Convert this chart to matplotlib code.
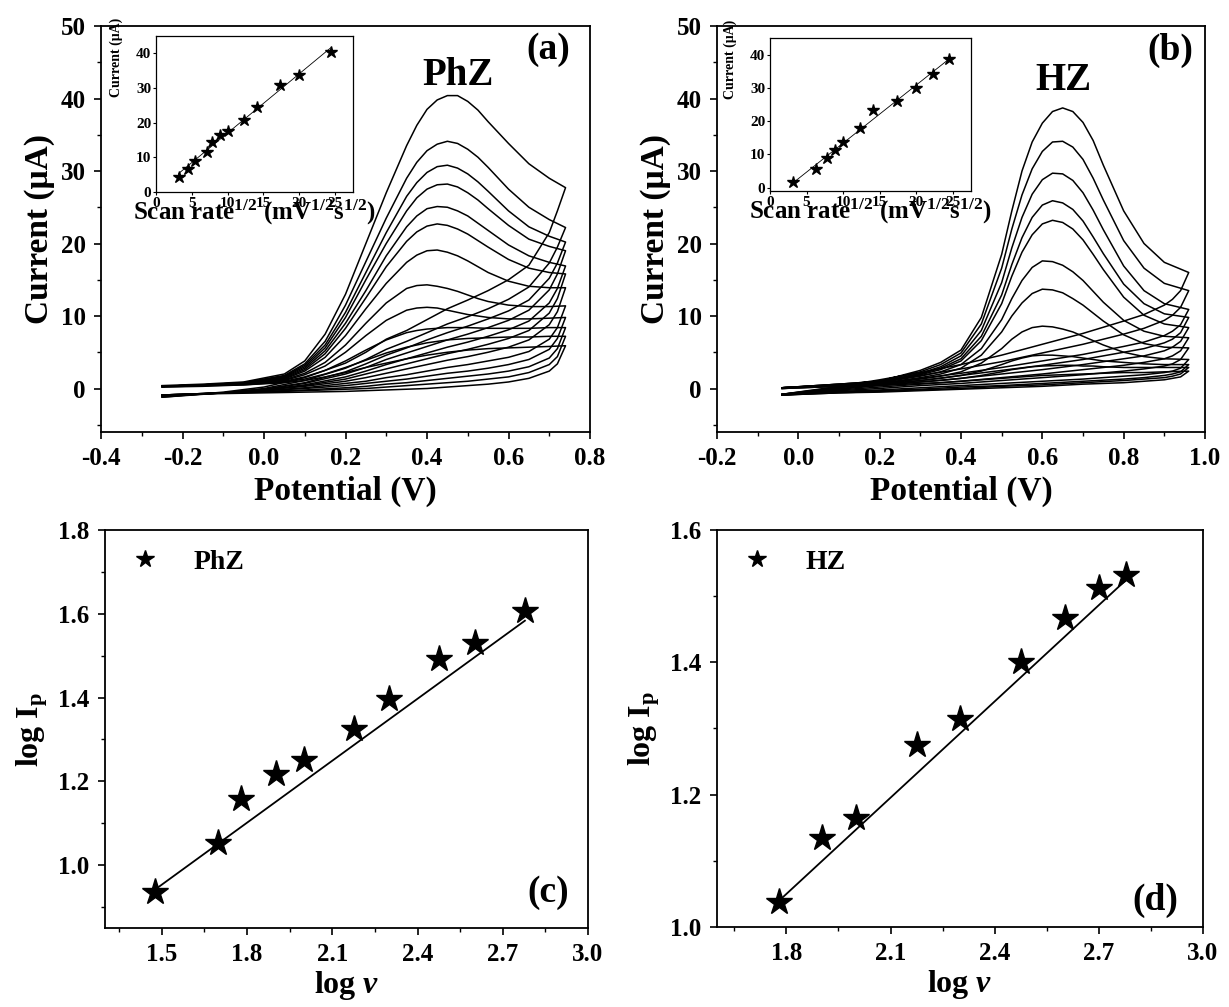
import numpy as np
import matplotlib
matplotlib.use('Agg')
import matplotlib.pyplot as plt
from matplotlib.ticker import MultipleLocator
from matplotlib.lines import Line2D

plt.rcParams['font.family'] = ['Liberation Serif', 'DejaVu Serif']
plt.rcParams['font.weight'] = 'bold'
plt.rcParams['axes.labelweight'] = 'bold'
plt.rcParams['axes.unicode_minus'] = False
plt.rcParams['mathtext.fontset'] = 'custom'
plt.rcParams['mathtext.rm'] = 'Liberation Serif:bold'
plt.rcParams['mathtext.bf'] = 'Liberation Serif:bold'
plt.rcParams['mathtext.it'] = 'Liberation Serif:italic:bold'
plt.rcParams['mathtext.default'] = 'rm'

# ---------------- Panel (a): PhZ cyclic voltammograms ----------------
E_fwd_a = [-0.25, -0.15, -0.05, 0.05, 0.10, 0.15, 0.20, 0.25, 0.30, 0.35, 0.375,
           0.40, 0.425, 0.45, 0.475, 0.50, 0.525, 0.55, 0.60, 0.65, 0.70, 0.74]
E_rev_a = [0.74, 0.72, 0.70, 0.65, 0.60, 0.55, 0.50, 0.45, 0.40, 0.35,
           0.30, 0.25, 0.20, 0.10, 0.0, -0.10, -0.25]
I_fwd_a = [
    [0.2, 0.3, 0.5, 0.8, 1.1, 1.6, 2.2, 2.9, 3.5, 4.1, 4.35, 4.6, 4.8, 5.0, 5.15, 5.3, 5.4, 5.5, 5.6, 5.7, 5.8, 5.9],
    [0.2, 0.4, 0.5, 0.9, 1.3, 2.0, 2.9, 3.9, 4.9, 5.7, 6.0, 6.3, 6.5, 6.7, 6.8, 6.9, 6.95, 7.0, 7.1, 7.1, 7.2, 7.2],
    [0.3, 0.4, 0.6, 1.0, 1.6, 2.5, 3.8, 5.3, 6.7, 7.7, 8.0, 8.2, 8.3, 8.4, 8.4, 8.4, 8.35, 8.3, 8.3, 8.3, 8.4, 8.4],
    [0.3, 0.5, 0.6, 1.1, 1.9, 3.1, 5.0, 7.3, 9.4, 10.8, 11.1, 11.2, 11.1, 10.8, 10.5, 10.2, 10.0, 9.8, 9.6, 9.6, 9.7, 9.8],
    [0.3, 0.5, 0.7, 1.2, 2.1, 3.6, 6.0, 9.0, 11.8, 13.8, 14.2, 14.3, 14.1, 13.8, 13.4, 12.9, 12.4, 12.0, 11.5, 11.3, 11.3, 11.4],
    [0.3, 0.5, 0.7, 1.3, 2.4, 4.3, 7.3, 11.0, 14.5, 17.4, 18.4, 19.0, 19.1, 18.8, 18.3, 17.6, 16.8, 16.0, 14.8, 14.1, 13.9, 13.9],
    [0.3, 0.5, 0.7, 1.4, 2.6, 4.8, 8.3, 12.5, 16.8, 20.3, 21.6, 22.4, 22.7, 22.5, 22.0, 21.3, 20.4, 19.5, 17.8, 16.6, 16.0, 15.8],
    [0.3, 0.5, 0.7, 1.5, 2.8, 5.2, 9.0, 13.5, 18.3, 22.3, 23.8, 24.8, 25.1, 25.0, 24.5, 23.8, 22.8, 21.8, 19.8, 18.3, 17.4, 16.9],
    [0.3, 0.5, 0.8, 1.6, 3.0, 5.6, 9.8, 15.0, 20.0, 24.5, 26.3, 27.5, 28.1, 28.2, 27.8, 27.0, 26.0, 24.8, 22.5, 20.6, 19.6, 19.0],
    [0.3, 0.5, 0.8, 1.7, 3.2, 6.0, 10.5, 16.0, 21.5, 26.5, 28.4, 29.8, 30.6, 30.8, 30.4, 29.6, 28.5, 27.2, 24.5, 22.3, 21.0, 20.2],
    [0.3, 0.5, 0.8, 1.8, 3.4, 6.5, 11.5, 17.5, 23.5, 29.0, 31.2, 32.8, 33.7, 34.1, 33.8, 33.0, 31.9, 30.5, 27.5, 25.0, 23.3, 22.2],
    [0.4, 0.6, 0.9, 2.0, 3.8, 7.5, 13.0, 20.0, 27.0, 33.5, 36.3, 38.5, 39.8, 40.4, 40.4, 39.6, 38.4, 36.8, 33.8, 31.0, 29.0, 27.7],
]
I_rev_a = [
    [5.9, 3.4, 2.4, 1.4, 0.9, 0.6, 0.4, 0.2, 0.0, -0.1, -0.2, -0.3, -0.4, -0.5, -0.6, -0.7, -0.9],
    [7.2, 4.4, 3.3, 2.2, 1.6, 1.3, 1.0, 0.8, 0.6, 0.4, 0.2, 0.0, -0.1, -0.3, -0.5, -0.6, -0.9],
    [8.4, 5.5, 4.2, 3.0, 2.4, 2.0, 1.7, 1.4, 1.1, 0.8, 0.6, 0.3, 0.1, -0.2, -0.4, -0.6, -0.9],
    [9.8, 6.9, 5.4, 4.0, 3.3, 2.8, 2.4, 2.1, 1.7, 1.3, 1.0, 0.7, 0.4, 0.0, -0.3, -0.6, -0.9],
    [11.4, 8.4, 6.8, 5.1, 4.3, 3.8, 3.3, 2.9, 2.4, 1.9, 1.5, 1.0, 0.7, 0.1, -0.3, -0.6, -0.9],
    [13.9, 10.6, 8.8, 6.7, 5.7, 5.0, 4.4, 3.9, 3.3, 2.7, 2.1, 1.5, 1.0, 0.3, -0.2, -0.6, -1.0],
    [15.8, 12.4, 10.4, 8.0, 6.9, 6.1, 5.4, 4.8, 4.1, 3.4, 2.7, 2.0, 1.3, 0.4, -0.2, -0.6, -1.0],
    [16.9, 13.8, 11.8, 9.3, 8.1, 7.2, 6.4, 5.7, 4.9, 4.1, 3.3, 2.4, 1.6, 0.5, -0.2, -0.6, -1.0],
    [19.0, 15.8, 13.6, 10.8, 9.4, 8.4, 7.5, 6.7, 5.8, 4.9, 4.0, 2.9, 2.0, 0.7, -0.1, -0.6, -1.1],
    [20.2, 17.3, 15.2, 12.2, 10.7, 9.6, 8.6, 7.7, 6.7, 5.6, 4.6, 3.4, 2.3, 0.8, -0.1, -0.6, -1.1],
    [22.2, 19.5, 17.3, 14.0, 12.3, 11.0, 9.9, 8.9, 7.7, 6.5, 5.4, 4.0, 2.8, 1.1, 0.0, -0.6, -1.2],
    [27.7, 24.5, 21.5, 17.0, 15.0, 13.5, 12.2, 11.0, 9.5, 8.0, 6.8, 5.0, 3.5, 1.5, 0.2, -0.5, -1.2],
]

# inset (a): peak current vs sqrt(scan rate)
sqrt_v_a = [3.16, 4.47, 5.48, 7.07, 7.75, 8.94, 10.0, 12.25, 14.14, 17.32, 20.0, 24.49]
Ip_a = [4.2, 6.7, 8.8, 11.4, 14.5, 16.5, 17.6, 20.8, 24.6, 30.8, 33.7, 40.4]

# ---------------- Panel (b): HZ cyclic voltammograms ----------------
E_fwd_b = [-0.04, 0.10, 0.20, 0.30, 0.35, 0.40, 0.45, 0.50, 0.525, 0.55, 0.575,
           0.60, 0.625, 0.65, 0.675, 0.70, 0.725, 0.75, 0.80, 0.85, 0.90, 0.96]
E_rev_b = [0.96, 0.94, 0.92, 0.90, 0.85, 0.80, 0.70, 0.60, 0.50, 0.40,
           0.30, 0.20, 0.10, -0.04]
I_fwd_b = [
    [0.0, 0.3, 0.4, 0.7, 0.8, 1.0, 1.2, 1.4, 1.5, 1.6, 1.7, 1.8, 1.85, 1.9, 1.95, 2.0, 2.05, 2.1, 2.2, 2.2, 2.3, 2.4],
    [0.0, 0.3, 0.5, 0.9, 1.1, 1.4, 1.8, 2.3, 2.6, 2.8, 3.0, 3.1, 3.15, 3.2, 3.2, 3.1, 3.1, 3.0, 2.9, 2.9, 2.9, 2.9],
    [0.0, 0.4, 0.6, 1.1, 1.4, 1.8, 2.4, 3.3, 3.8, 4.2, 4.5, 4.6, 4.6, 4.5, 4.4, 4.2, 4.0, 3.8, 3.6, 3.4, 3.3, 3.3],
    [0.1, 0.4, 0.6, 1.3, 1.7, 2.3, 3.5, 5.5, 6.8, 7.8, 8.4, 8.6, 8.5, 8.2, 7.8, 7.2, 6.6, 6.0, 5.0, 4.4, 4.1, 4.0],
    [0.1, 0.5, 0.7, 1.5, 2.0, 2.8, 4.6, 7.8, 10.0, 11.8, 13.1, 13.7, 13.6, 13.2, 12.4, 11.5, 10.4, 9.3, 7.4, 6.2, 5.7, 5.6],
    [0.1, 0.5, 0.8, 1.7, 2.3, 3.3, 5.5, 9.5, 12.4, 14.9, 16.7, 17.6, 17.5, 17.0, 16.1, 14.9, 13.4, 11.9, 9.4, 7.9, 7.2, 7.0],
    [0.1, 0.5, 0.8, 1.9, 2.6, 3.8, 6.6, 11.7, 15.5, 18.8, 21.2, 22.7, 23.2, 22.9, 22.0, 20.5, 18.5, 16.4, 12.6, 10.1, 8.9, 8.4],
    [0.1, 0.5, 0.9, 2.0, 2.8, 4.1, 7.2, 12.9, 17.1, 20.8, 23.6, 25.3, 25.9, 25.6, 24.7, 23.1, 20.9, 18.6, 14.4, 11.7, 10.3, 9.8],
    [0.1, 0.6, 0.9, 2.1, 3.0, 4.5, 8.0, 14.6, 19.4, 23.6, 26.8, 28.8, 29.7, 29.6, 28.7, 27.0, 24.6, 21.9, 16.9, 13.5, 11.7, 10.9],
    [0.1, 0.6, 1.0, 2.3, 3.3, 4.9, 8.9, 16.6, 22.0, 26.7, 30.3, 32.7, 34.0, 34.1, 33.3, 31.6, 29.0, 26.0, 20.4, 16.6, 14.5, 13.5],
    [0.1, 0.6, 1.0, 2.5, 3.6, 5.3, 9.8, 18.5, 24.5, 30.0, 34.0, 36.6, 38.2, 38.7, 38.2, 36.7, 34.2, 30.8, 24.5, 20.0, 17.4, 16.0],
]
I_rev_b = [
    [2.4, 1.6, 1.4, 1.2, 1.0, 0.8, 0.6, 0.3, 0.1, -0.1, -0.3, -0.5, -0.6, -0.9],
    [2.9, 2.0, 1.7, 1.5, 1.3, 1.1, 0.8, 0.5, 0.3, 0.0, -0.2, -0.4, -0.6, -0.9],
    [3.3, 2.3, 2.0, 1.8, 1.5, 1.3, 1.0, 0.7, 0.4, 0.2, -0.1, -0.3, -0.5, -0.9],
    [4.0, 2.8, 2.4, 2.2, 1.9, 1.7, 1.3, 1.0, 0.7, 0.4, 0.1, -0.2, -0.4, -0.9],
    [5.6, 4.0, 3.4, 3.1, 2.7, 2.4, 1.9, 1.5, 1.1, 0.7, 0.4, 0.0, -0.3, -0.9],
    [7.0, 5.2, 4.5, 4.1, 3.6, 3.2, 2.6, 2.0, 1.5, 1.0, 0.6, 0.2, -0.2, -0.8],
    [8.4, 6.5, 5.7, 5.2, 4.5, 4.1, 3.3, 2.6, 2.0, 1.4, 0.9, 0.4, -0.1, -0.8],
    [9.8, 7.7, 6.8, 6.3, 5.5, 5.0, 4.0, 3.2, 2.5, 1.8, 1.1, 0.5, 0.0, -0.8],
    [10.9, 8.8, 7.9, 7.3, 6.4, 5.8, 4.7, 3.8, 2.9, 2.1, 1.4, 0.7, 0.1, -0.8],
    [13.5, 11.2, 10.1, 9.4, 8.3, 7.5, 6.1, 4.9, 3.7, 2.7, 1.8, 0.9, 0.2, -0.8],
    [16.0, 13.5, 12.3, 11.5, 10.2, 9.3, 7.6, 6.1, 4.6, 3.3, 2.2, 1.2, 0.3, -0.8],
]

# inset (b)
sqrt_v_b = [3.16, 6.32, 7.75, 8.94, 10.0, 12.25, 14.14, 17.32, 20.0, 22.36, 24.49]
Ip_b = [1.8, 5.6, 8.8, 11.3, 13.8, 17.8, 23.3, 26.0, 29.9, 34.3, 38.8]

# ---------------- Panel (c): log Ip vs log v (PhZ) ----------------
logv_c = [1.477, 1.699, 1.778, 1.903, 2.000, 2.176, 2.301, 2.477, 2.602, 2.778]
logI_c = [0.935, 1.054, 1.157, 1.217, 1.252, 1.324, 1.397, 1.492, 1.531, 1.607]
fit_c = (0.493, 0.214)   # slope, intercept of fitted line

# ---------------- Panel (d): log Ip vs log v (HZ) ----------------
logv_d = [1.778, 1.903, 2.000, 2.176, 2.301, 2.477, 2.602, 2.699, 2.778]
logI_d = [1.038, 1.134, 1.164, 1.275, 1.315, 1.400, 1.467, 1.512, 1.532]
fit_d = (0.485, 0.177)

W, H = 1229, 1007
fig = plt.figure(figsize=(W / 100, H / 100), dpi=100)


def px_axes(l, t, r, b):
    return fig.add_axes([l / W, 1 - b / H, (r - l) / W, (b - t) / H])


TICK_FS = 18
LAB_FS = 24


def style_main(ax):
    for s in ax.spines.values():
        s.set_linewidth(1.3)
    ax.tick_params(which='major', direction='out', length=5, width=1.2,
                   labelsize=TICK_FS, top=False, right=False, pad=6)
    ax.tick_params(which='minor', direction='out', length=3, width=1.0,
                   top=False, right=False)
    for lab in ax.get_xticklabels() + ax.get_yticklabels():
        lab.set_fontweight('bold')


def draw_cv(ax, Ef, Er, If, Ir):
    for f, r in zip(If, Ir):
        ax.plot(list(Ef) + list(Er), list(f) + list(r), color='k', lw=1.1,
                solid_joinstyle='round')


def draw_inset(rect, x, y, ylim):
    ia = px_axes(*rect)
    ia.plot(x, y, ls='none', marker='*', color='k', ms=9)
    p = np.polyfit(x, y, 1)
    xx = np.array([x[0], x[-1]])
    ia.plot(xx, np.polyval(p, xx), color='k', lw=0.6)
    ia.set_xlim(0, 27.5)
    ia.set_ylim(*ylim)
    ia.xaxis.set_major_locator(MultipleLocator(5))
    ia.yaxis.set_major_locator(MultipleLocator(10))
    ia.tick_params(direction='out', length=2.5, width=0.8, labelsize=11, pad=1)
    for s in ia.spines.values():
        s.set_linewidth(0.9)
    ia.set_ylabel('Current (μA)', fontsize=10, fontweight='bold')
    ia.yaxis.set_label_coords(-0.165, 0.86)
    ia.set_xlabel('Scan rate$^{1/2}$ (mV$^{1/2}$s$^{1/2}$)', fontsize=18,
                  fontweight='bold', labelpad=-9)
    return ia


# ---- (a)
axa = px_axes(101, 26, 590, 432)
draw_cv(axa, E_fwd_a, E_rev_a, I_fwd_a, I_rev_a)
axa.set_xlim(-0.4, 0.8)
axa.set_ylim(-6, 50)
axa.xaxis.set_major_locator(MultipleLocator(0.2))
axa.xaxis.set_minor_locator(MultipleLocator(0.1))
axa.yaxis.set_major_locator(MultipleLocator(10))
axa.yaxis.set_minor_locator(MultipleLocator(5))
axa.xaxis.set_major_formatter(plt.FuncFormatter(lambda v, p: f'{v:.1f}'))
style_main(axa)
axa.set_xlabel('Potential (V)', fontsize=LAB_FS, fontweight='bold', labelpad=4)
axa.set_ylabel('Current (μA)', fontsize=LAB_FS, fontweight='bold', labelpad=4)
axa.text(0.73, 0.877, 'PhZ', transform=axa.transAxes, fontsize=28,
         fontweight='bold', ha='center', va='center')
axa.text(0.914, 0.941, '(a)', transform=axa.transAxes, fontsize=27,
         fontweight='bold', ha='center', va='center')
draw_inset((156, 36, 353, 192), sqrt_v_a, Ip_a, (0, 45))

# ---- (b)
axb = px_axes(717, 26, 1205, 432)
draw_cv(axb, E_fwd_b, E_rev_b, I_fwd_b, I_rev_b)
axb.set_xlim(-0.2, 1.0)
axb.set_ylim(-6, 50)
axb.xaxis.set_major_locator(MultipleLocator(0.2))
axb.xaxis.set_minor_locator(MultipleLocator(0.1))
axb.yaxis.set_major_locator(MultipleLocator(10))
axb.yaxis.set_minor_locator(MultipleLocator(5))
axb.xaxis.set_major_formatter(plt.FuncFormatter(lambda v, p: f'{v:.1f}'))
style_main(axb)
axb.set_xlabel('Potential (V)', fontsize=LAB_FS, fontweight='bold', labelpad=4)
axb.set_ylabel('Current (μA)', fontsize=LAB_FS, fontweight='bold', labelpad=4)
axb.text(0.709, 0.865, 'HZ', transform=axb.transAxes, fontsize=28,
         fontweight='bold', ha='center', va='center')
axb.text(0.928, 0.941, '(b)', transform=axb.transAxes, fontsize=27,
         fontweight='bold', ha='center', va='center')
draw_inset((770, 38, 971, 191), sqrt_v_b, Ip_b, (-1, 45))


def draw_log(ax, x, y, fit, label, xlim, ylim, letter, letter_pos):
    ax.plot(x, y, ls='none', marker='*', color='k', ms=20)
    xx = np.array([x[0], x[-1]])
    ax.plot(xx, fit[0] * xx + fit[1], color='k', lw=1.3)
    ax.set_xlim(*xlim)
    ax.set_ylim(*ylim)
    ax.xaxis.set_major_locator(MultipleLocator(0.3))
    ax.xaxis.set_minor_locator(MultipleLocator(0.15))
    ax.yaxis.set_major_locator(MultipleLocator(0.2))
    ax.yaxis.set_minor_locator(MultipleLocator(0.1))
    ax.xaxis.set_major_formatter(plt.FuncFormatter(lambda v, p: f'{v:.1f}'))
    ax.yaxis.set_major_formatter(plt.FuncFormatter(lambda v, p: f'{v:.1f}'))
    style_main(ax)
    ax.set_xlabel(r'log $\mathit{v}$', fontsize=23, fontweight='bold', labelpad=2)
    ax.set_ylabel(r'log I$_p$', fontsize=23, fontweight='bold', labelpad=6)
    h = Line2D([], [], ls='none', marker='*', color='k', ms=13)
    ax.legend([h], [label], loc='upper left', frameon=False,
              prop={'size': 20, 'weight': 'bold'}, handletextpad=1.0,
              borderaxespad=0.3, handlelength=1.5)
    ax.text(letter_pos[0], letter_pos[1], letter, transform=ax.transAxes,
            fontsize=27, fontweight='bold', ha='center', va='center')


axc = px_axes(105, 530, 588, 928)
draw_log(axc, logv_c, logI_c, fit_c, 'PhZ', (1.3, 3.0), (0.85, 1.8),
         '(c)', (0.917, 0.088))

axd = px_axes(717, 530, 1203, 927)
draw_log(axd, logv_d, logI_d, fit_d, 'HZ', (1.6, 3.0), (1.0, 1.6),
         '(d)', (0.901, 0.068))

fig.savefig('out.png', dpi=100)
